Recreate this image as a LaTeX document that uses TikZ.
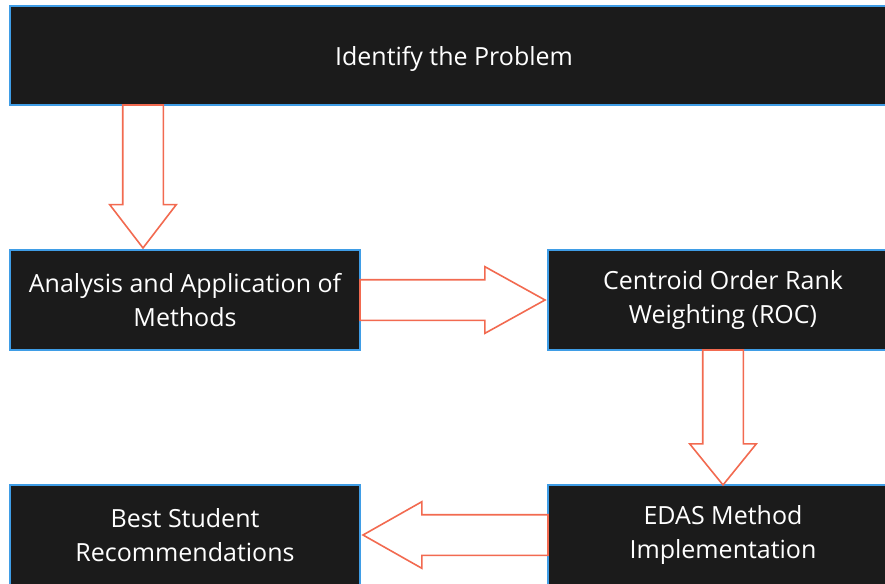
\documentclass[tikz,border=0pt]{standalone}
\usepackage{fontspec}
\setmainfont{Open Sans}
\usepackage{xcolor}
\usetikzlibrary{positioning,shapes.arrows,calc}

\definecolor{boxfill}{HTML}{1B1B1B}
\definecolor{boxline}{HTML}{3F9DE6}
\definecolor{arrowline}{HTML}{F26A50}

\begin{document}
\begin{tikzpicture}[x=1pt, y=-1pt,
   font=\fontsize{25}{33.5}\selectfont,
   procbox/.style={rectangle, fill=boxfill, draw=boxline, line width=2pt,
      text=white, align=center, minimum width=350pt, minimum height=100pt,
      inner sep=0pt, outer sep=0pt},
   blockarrow/.style={single arrow, draw=arrowline, line width=1.6pt, fill=white,
      inner sep=19.5pt, outer sep=0pt, single arrow head extend=13pt}]
      \useasboundingbox (0,0) rectangle (885,583);
      \clip (0,0) rectangle (885,583);

      \node[procbox, minimum width=888pt, minimum height=99pt, text depth=0pt, name=identify] at (454,55.5) {Identify the Problem};
      \node[procbox, name=analysis] at (185,300) {Analysis and Application of\\Methods};
      \node[procbox, name=roc, right=188pt of analysis] {Centroid Order Rank\\Weighting (ROC)};
      \node[procbox, name=edas, below=135pt of roc] {EDAS Method\\Implementation};
      \node[procbox, name=best, left=188pt of edas] {Best Student\\Recommendations};

      \node[blockarrow, shape border rotate=270, single arrow tip angle=75,
         minimum height=143pt, anchor=tail, name=arrow1]
         at ([xshift=-42pt]identify.south -| analysis.north) {};
      \node[blockarrow, shape border rotate=0, single arrow tip angle=58,
         minimum height=185pt, anchor=tail, name=arrow2] at (analysis.east) {};
      \node[blockarrow, shape border rotate=270, single arrow tip angle=78,
         minimum height=135pt, anchor=tail, name=arrow3] at (roc.south) {};
      \node[blockarrow, shape border rotate=180, single arrow tip angle=59,
         minimum height=185pt, anchor=tail, name=arrow4] at (edas.west) {};
   \end{tikzpicture}
\end{document}
